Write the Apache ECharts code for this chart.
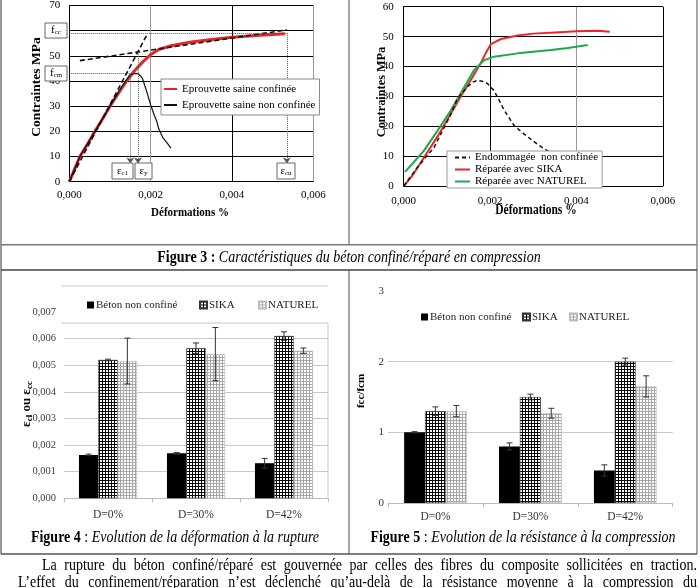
<!DOCTYPE html>
<html><head><meta charset="utf-8">
<script src="https://cdn.jsdelivr.net/npm/echarts@6/dist/echarts.min.js"></script>
<style>html,body{margin:0;padding:0;background:#fff}#c{width:700px;height:588px}</style>
</head><body><div id="c"></div>
<script>
// ---------- Figure 3 (left): healthy specimens ----------
const f3aConfStrain = [0,0.00013,0.00026,0.00045,0.00063,0.00082,0.001,0.0012,0.00141,0.0016,0.0018,0.002,0.0022,0.0025,0.003,0.0035,0.004,0.0045,0.005,0.0053];
const f3aConfStress = [0,5,10,15,20,25,30,35,40,44,47.5,50.5,52.5,54,55.5,56.5,57.4,58,58.5,58.8];
const f3aNonStrain = [0,0.00026,0.00063,0.001,0.0013,0.00145,0.0015,0.0016,0.0017,0.00175,0.0018,0.0019,0.002,0.0021,0.00215,0.0022,0.0023,0.0024,0.0025];
const f3aNonStress = [0,10,20,30,38,41.5,42.5,43,42.8,42,41,36,30.5,26,24,21,17.5,15.5,13.3];
const f3aTangent = [[0,0],[0.0019,58.1]];
const f3aPlateau = [[0.00026,48.1],[0.00535,60.3]];
const f3aFcc = 59, f3aFcm = 43, f3aEc1 = 0.0015, f3aEy = 0.00169, f3aEcu = 0.00535, f3aEyStress = 51.6, f3aArrowEnd = 7.2;
// ---------- Figure 3 (right): damaged / repaired ----------
const f3bDamStrain = [0,0.00031,0.0007,0.00109,0.00124,0.00147,0.0016,0.00171,0.00185,0.00194,0.00209,0.0022,0.00233,0.00256,0.00279,0.0031,0.00333,0.0035];
const f3bDamStress = [0,6.2,12.9,24,29.2,33.1,34.8,35.4,35,34.3,32,29,25.3,20.2,17.4,14,11.8,10];
const f3bSikaStrain = [0,0.0002,0.000465,0.0008,0.00109,0.0013,0.00155,0.00178,0.0019,0.00202,0.00225,0.00264,0.003,0.0035,0.004,0.0045,0.00477];
const f3bSikaStress = [0,3.5,9.5,17,24.2,29.5,35.4,41,44.5,47.5,49.2,50.4,51,51.4,51.8,52,51.6];
const f3bNatStrain = [0.00003,0.0002,0.000465,0.00078,0.00109,0.0014,0.00163,0.00186,0.00209,0.00264,0.00341,0.0038,0.00426];
const f3bNatStress = [4.8,7.5,11.8,18.5,25.3,33.1,38.8,42.1,43.3,44.4,45.5,46.2,47.2];
// ---------- Figures 4 & 5 ----------
const categories = ['D=0%','D=30%','D=42%'];
const f4Beton = [0.00163,0.00169,0.00132], f4BetonErr = [0.00003,0.00003,0.00018];
const f4Sika = [0.0052,0.00564,0.0061], f4SikaErr = [0.00003,0.0002,0.00016];
const f4Nat = [0.00516,0.00542,0.00555], f4NatErr = [0.00086,0.001,0.0001];
const f5Beton = [1.0,0.80,0.46], f5BetonErr = [0.01,0.05,0.08];
const f5Sika = [1.30,1.50,2.0], f5SikaErr = [0.06,0.04,0.05];
const f5Nat = [1.30,1.27,1.65], f5NatErr = [0.08,0.07,0.15];

const zip = (a,b) => a.map((v,i)=>[v,b[i]]);
const serif = 'Liberation Serif';
function makePattern(draw,size){const c=document.createElement('canvas');c.width=c.height=size;const g=c.getContext('2d');draw(g,size);return c;}
const sikaPat = {image: makePattern((g)=>{g.fillStyle='#fff';g.fillRect(0,0,3,3);g.fillStyle='#000';g.fillRect(0,0,3,1);g.fillRect(0,0,1,3);},3), repeat:'repeat'};
const natPat = {image: makePattern((g)=>{g.fillStyle='#fff';g.fillRect(0,0,3,3);g.fillStyle='#a8a8a8';g.fillRect(0,0,3,1);g.fillRect(0,0,1,3);},3), repeat:'repeat'};
const commaFmt = d => v => v===0 && d===0 ? '0' : v.toFixed(d).replace('.',',');

function errSeries(xi,yi,vals,errs,idx){
  return {type:'custom', xAxisIndex:xi, yAxisIndex:yi, z:5, silent:true,
    data: vals.map((v,i)=>[i, v-errs[i], v+errs[i]]),
    renderItem:(params,api)=>{
      const x=api.value(0); const p1=api.coord([x,api.value(2)]); const p2=api.coord([x,api.value(1)]);
      const bw=api.size([1,0])[0]*0.66/3; const cx=p1[0]+(idx-1)*bw; const cap=3;
      const st={stroke:'#333',lineWidth:1};
      return {type:'group',children:[
        {type:'line',shape:{x1:cx,y1:p1[1],x2:cx,y2:p2[1]},style:st},
        {type:'line',shape:{x1:cx-cap,y1:p1[1],x2:cx+cap,y2:p1[1]},style:st},
        {type:'line',shape:{x1:cx-cap,y1:p2[1],x2:cx+cap,y2:p2[1]},style:st}]};
    }};
}
function bar(name,xi,yi,vals,color,border){
  return {name, type:'bar', xAxisIndex:xi, yAxisIndex:yi, data:vals, barGap:'0%', barCategoryGap:'34%',
    itemStyle:{color, borderColor:border||'transparent', borderWidth:border?0.6:0}};
}

// ---- graphic helpers ----
const G = [];
const ln = (x1,y1,x2,y2,color,w,z)=>G.push({type:'line',z:z||50,shape:{x1,y1,x2,y2},style:{stroke:color,lineWidth:w}});
const txt = (x,y,text,opt)=>G.push(Object.assign({type:'text',z:60,x,y,style:Object.assign({text,fill:'#000',fontFamily:serif,fontSize:12,align:'center',verticalAlign:'middle'},opt&&opt.style||{})},opt&&opt.el||{}));
// table lines
ln(1,0,1,554,'#777',1.5); ln(697,0,697,554,'#888',1.5);
ln(349,0,349,244.7,'#888',1.5); ln(349,270,349,554,'#888',1.5);
ln(1,244.7,697,244.7,'#777',1.5); ln(1,270,697,270,'#444',1.5); ln(1,554,697,554,'#555',1.5);
// fig4 frame bits
ln(61,286,328,286,'#c8c8c8',1); ln(61,323,328,323,'#c8c8c8',1); ln(328,323,328,498.3,'#c8c8c8',1);
// axis titles
txt(37,87,'Contraintes MPa',{style:{fontSize:13.5,fontWeight:'bold'},el:{rotation:Math.PI/2}});
txt(190,213,'Déformations %',{style:{fontSize:11,fontWeight:'bold'},el:{scaleY:1.2}});
txt(382,92,'Contraintes MPa',{style:{fontSize:12.3,fontWeight:'bold'},el:{rotation:Math.PI/2}});
txt(536,210,'Déformations %',{style:{fontSize:11.5,fontWeight:'bold'},el:{scaleY:1.2}});
txt(27,404,'{a|ε}{s|cl}{a| ou ε}{s|cc}',{style:{rich:{a:{fontSize:13,fontWeight:'bold',fontFamily:serif},s:{fontSize:9,fontWeight:'bold',fontFamily:serif,padding:[5,0,0,0]}}},el:{rotation:Math.PI/2}});
txt(361,391,'fcc/fcm',{style:{fontSize:11,fontWeight:'bold'},el:{rotation:Math.PI/2}});
// annotation boxes fig 3 left
function box(x,y,w,h,main,sub){
  G.push({type:'rect',z:55,shape:{x,y,width:w,height:h},style:{fill:'#fff',stroke:'#666',lineWidth:1}});
  txt(x+w/2,y+h/2,'{a|'+main+'}{s|'+sub+'}',{style:{rich:{a:{fontSize:11,fontFamily:serif},s:{fontSize:7,fontFamily:serif,padding:[4,0,0,0]}}}});
}
box(45,23,22,15,'f','cc'); box(45,66,22,15,'f','cm');
box(112,163,21,16,'ε','c1'); box(135,163,17,16,'ε','y'); box(277,163,18,16,'ε','cu');
// captions
const capRich = {b:{fontWeight:'bold',fontSize:14,fontFamily:serif},i:{fontStyle:'italic',fontSize:14,fontFamily:serif},n:{fontSize:14,fontFamily:serif}};
txt(349,257.5,'{b|Figure 3 :}{i| Caractéristiques du béton confiné/réparé en compression}',{style:{rich:capRich},el:{scaleY:1.15}});
txt(175,538,'{b|Figure 4}{n| : }{i|Evolution de la déformation à la rupture}',{style:{rich:capRich},el:{scaleY:1.15}});
txt(523,538,'{b|Figure 5}{n| : }{i|Evolution de la résistance à la compression}',{style:{rich:capRich},el:{scaleY:1.15}});
// justified paragraph
const paraLines = [
  ['La rupture du béton confiné/réparé est gouvernée par celles des fibres du composite  sollicitées en traction.',42,697,566],
  ['L’effet du confinement/réparation  n’est déclenché qu’au-delà de la résistance moyenne à la compression  du',18,697,583]
];
const mctx = document.createElement('canvas').getContext('2d');
mctx.font = '14px "Liberation Serif"';
paraLines.forEach(([t,x0,x1,y])=>{
  const words=t.split(/\s+/); const ws=words.map(w=>mctx.measureText(w).width);
  const tot=ws.reduce((a,b)=>a+b,0); const gap=(x1-x0-tot)/(words.length-1);
  let x=x0; words.forEach((w,i)=>{txt(x,y,w,{style:{fontSize:14,align:'left'},el:{scaleY:1.15}}); x+=ws[i]+gap;});
});

const lblFont = {fontFamily:serif,fontSize:11,color:'#000'};
const barLegend = (name,left,top)=>({data:[name],left,top,itemWidth:7,itemHeight:7,padding:0,icon:'rect',
  textStyle:{fontFamily:serif,fontSize:11,color:'#222',lineHeight:13,padding:[0,0,0,-3]}});
const option = {
  animation:false,
  grid:[
    {left:69.3,top:1.1,width:244,height:180.6},
    {left:403.7,top:6.7,width:259.1,height:179.5},
    {left:64,top:312.1,width:264,height:186.2},
    {left:388,top:291,width:284.7,height:212}
  ],
  xAxis:[
    {gridIndex:0,type:'value',min:0,max:0.006,interval:0.002,axisLine:{lineStyle:{color:'#000',width:1}},axisTick:{show:false},
     axisLabel:Object.assign({margin:8,formatter:commaFmt(3)},lblFont),splitLine:{lineStyle:{color:['#000','#999','#000','#999'],width:1}}},
    {gridIndex:1,type:'value',min:0,max:0.006,interval:0.002,axisLine:{lineStyle:{color:'#000',width:1}},axisTick:{show:false},
     axisLabel:Object.assign({margin:9,formatter:commaFmt(3)},lblFont),splitLine:{lineStyle:{color:['#000','#000','#999','#000'],width:1}}},
    {gridIndex:2,type:'category',data:categories,axisLine:{lineStyle:{color:'#bbb'}},axisTick:{show:true,length:4,lineStyle:{color:'#bbb'}},
     axisLabel:{fontFamily:serif,fontSize:11.5,color:'#333',margin:11}},
    {gridIndex:3,type:'category',data:categories,axisLine:{lineStyle:{color:'#bbb'}},axisTick:{show:true,length:4,lineStyle:{color:'#bbb'}},
     axisLabel:{fontFamily:serif,fontSize:11.5,color:'#333',margin:8}}
  ],
  yAxis:[
    {gridIndex:0,type:'value',min:0,max:70,interval:10,axisLine:{show:true,lineStyle:{color:'#000'}},axisTick:{show:false},
     axisLabel:Object.assign({margin:9},lblFont),splitLine:{lineStyle:{color:'#000',width:1}}},
    {gridIndex:1,type:'value',min:0,max:60,interval:10,axisLine:{show:true,lineStyle:{color:'#000'}},axisTick:{show:false},
     axisLabel:Object.assign({margin:10},lblFont),splitLine:{lineStyle:{color:'#000',width:1}}},
    {gridIndex:2,type:'value',min:0,max:0.007,interval:0.001,axisLine:{show:false},axisTick:{show:false},
     axisLabel:{fontFamily:serif,fontSize:10.5,color:'#404040',margin:8,formatter:v=>v.toFixed(3).replace('.',',')},
     splitLine:{showMaxLine:false,lineStyle:{color:'#c8c8c8'}}},
    {gridIndex:3,type:'value',min:0,max:3,interval:1,axisLine:{show:false},axisTick:{show:false},
     axisLabel:{fontFamily:serif,fontSize:11,color:'#333',margin:4},
     splitLine:{showMaxLine:false,lineStyle:{color:'#c8c8c8'}}}
  ],
  legend:[
    {data:['Eprouvette saine confinée','Eprouvette saine non confinée'],orient:'vertical',left:161,top:79,itemWidth:13,itemHeight:8,itemGap:4,
     itemStyle:{opacity:0},
     padding:[4,4,4,2],borderColor:'#888',borderWidth:1,backgroundColor:'#fff',textStyle:{fontFamily:serif,fontSize:11,color:'#000',lineHeight:12},z:20},
    {data:['Endommagée  non confinée','Réparée avec SIKA','Réparée avec NATUREL'],orient:'vertical',left:447,top:151,itemWidth:15,itemHeight:8,itemGap:1,
     itemStyle:{opacity:0},
     padding:[1,4,1,7],borderColor:'#999',borderWidth:1,backgroundColor:'#fff',textStyle:{fontFamily:serif,fontSize:11,color:'#000',lineHeight:10.5},z:20},
    barLegend('Béton non confiné',87,298.5), barLegend('SIKA',199,298.5), barLegend('NATUREL',258,298.5),
    barLegend('Béton non confiné ',421,310.5), barLegend('SIKA ',522,310.5), barLegend('NATUREL ',569,310.5)
  ],
  series:[
    {name:'Eprouvette saine confinée',type:'line',xAxisIndex:0,yAxisIndex:0,symbol:'none',data:zip(f3aConfStrain,f3aConfStress),
     lineStyle:{color:'#e3262c',width:3},itemStyle:{color:'#e3262c'},
     markLine:{silent:true,symbol:['none','none'],label:{show:false},lineStyle:{type:'dotted',color:'#555',width:1},
       data:[
         [{coord:[0,f3aFcc]},{coord:[f3aEcu,f3aFcc]}],
         [{coord:[0,f3aFcm]},{coord:[f3aEc1+0.0001,f3aFcm]}],
         [{coord:[f3aEc1,f3aFcm]},{coord:[f3aEc1,f3aArrowEnd],symbol:'arrow',symbolSize:6}],
         [{coord:[f3aEy,f3aEyStress]},{coord:[f3aEy,f3aArrowEnd],symbol:'arrow',symbolSize:6}],
         [{coord:[f3aEcu,f3aFcc]},{coord:[f3aEcu,f3aArrowEnd],symbol:'arrow',symbolSize:6}]
       ]}},
    {name:'Eprouvette saine non confinée',type:'line',xAxisIndex:0,yAxisIndex:0,symbol:'none',data:zip(f3aNonStrain,f3aNonStress),
     lineStyle:{color:'#111',width:1.2},itemStyle:{color:'#111'}},
    {type:'line',xAxisIndex:0,yAxisIndex:0,symbol:'none',data:f3aTangent,lineStyle:{color:'#111',width:1.6,type:[5,3]},silent:true},
    {type:'line',xAxisIndex:0,yAxisIndex:0,symbol:'none',data:f3aPlateau,lineStyle:{color:'#111',width:1.6,type:[5,3]},silent:true},
    {name:'Réparée avec SIKA',type:'line',xAxisIndex:1,yAxisIndex:1,symbol:'none',data:zip(f3bSikaStrain,f3bSikaStress),
     lineStyle:{color:'#e8262b',width:2},itemStyle:{color:'#e8262b'}},
    {name:'Réparée avec NATUREL',type:'line',xAxisIndex:1,yAxisIndex:1,symbol:'none',data:zip(f3bNatStrain,f3bNatStress),
     lineStyle:{color:'#1fa84a',width:2},itemStyle:{color:'#1fa84a'}},
    {name:'Endommagée  non confinée',type:'line',xAxisIndex:1,yAxisIndex:1,symbol:'none',data:zip(f3bDamStrain,f3bDamStress),
     lineStyle:{color:'#111',width:1.5,type:[4,3]},itemStyle:{color:'#111'}},
    bar('Béton non confiné',2,2,f4Beton,'#000'),
    bar('SIKA',2,2,f4Sika,sikaPat,'#333'),
    bar('NATUREL',2,2,f4Nat,natPat,'#bbb'),
    errSeries(2,2,f4Beton,f4BetonErr,0), errSeries(2,2,f4Sika,f4SikaErr,1), errSeries(2,2,f4Nat,f4NatErr,2),
    bar('Béton non confiné ',3,3,f5Beton,'#000'),
    bar('SIKA ',3,3,f5Sika,sikaPat,'#333'),
    bar('NATUREL ',3,3,f5Nat,natPat,'#bbb'),
    errSeries(3,3,f5Beton,f5BetonErr,0), errSeries(3,3,f5Sika,f5SikaErr,1), errSeries(3,3,f5Nat,f5NatErr,2)
  ],
  graphic:{elements:G}
};
const chart = echarts.init(document.getElementById('c'),null,{renderer:'canvas'});
chart.setOption(option);
</script></body></html>
